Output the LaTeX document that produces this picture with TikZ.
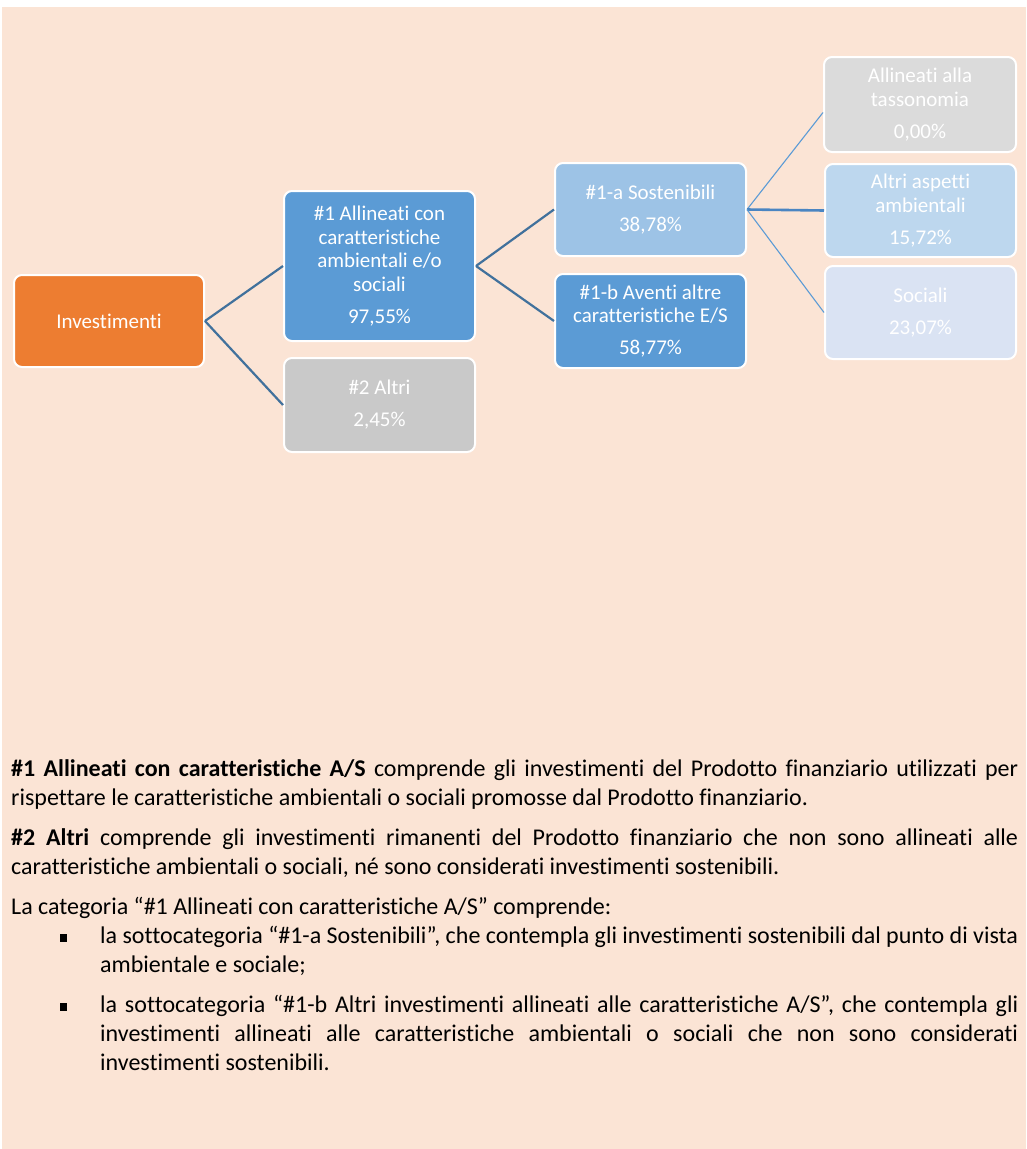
\documentclass[tikz,border=0pt]{standalone}
\usepackage{fontspec}
\setmainfont{Carlito}[Ligatures={TeX,NoCommon}]
\definecolor{bg}{HTML}{FBE4D5}
\definecolor{cOrange}{HTML}{ED7D31}
\definecolor{cBlue}{HTML}{5B9BD5}
\definecolor{cGrey}{HTML}{C9C9C9}
\definecolor{cLightBlue}{HTML}{9DC3E6}
\definecolor{cLightGrey}{HTML}{DBDBDB}
\definecolor{cPaleBlue}{HTML}{BDD7EE}
\definecolor{cPalest}{HTML}{DAE3F3}
\definecolor{lineA}{HTML}{41719C}
\definecolor{lineB}{HTML}{5B9BD5}
\definecolor{lineC}{HTML}{4A85C2}
\begin{document}
\begin{tikzpicture}[x=1pt,y=-1pt,
  box/.style={draw=white, line width=2pt, rounded corners=8pt, text=white,
    align=center, font=\fontsize{21}{23.7}\selectfont, inner sep=0pt},
  conn/.style={draw=lineA, line width=2.2pt},
  thinconn/.style={draw=lineB, line width=1.1pt},
  midconn/.style={draw=lineC, line width=2.6pt}]
\useasboundingbox (0,0) rectangle (1026,1149);
\fill[white] (0,0) rectangle (1026,1149);
\fill[bg] (2,7) rectangle (1026,1149);

\node[box, fill=cOrange, minimum width=190pt, minimum height=92pt] (inv) at (109,321) {Investimenti};
\node[box, fill=cBlue, minimum width=191pt, minimum height=150pt] (a1) at (379.5,266)
  {\#1 Allineati con\\caratteristiche\\ambientali e/o\\sociali\\[8.3pt]97,55\%};
\node[box, fill=cGrey, minimum width=191pt, minimum height=94pt] (a2) at (379.5,405)
  {\#2 Altri\\[8.3pt]2,45\%};
\node[box, fill=cLightBlue, minimum width=191pt, minimum height=93pt] (s1a) at (650.5,209.5)
  {\#1-a Sostenibili\\[8.3pt]38,78\%};
\node[box, fill=cBlue, minimum width=191pt, minimum height=94pt] (s1b) at (650.5,321)
  {\#1-b Aventi altre\\caratteristiche E/S\\[8.3pt]58,77\%};
\node[box, fill=cLightGrey, minimum width=192pt, minimum height=95pt] (tax) at (920,104.5)
  {Allineati alla\\tassonomia\\[8.3pt]0,00\%};
\node[box, fill=cPaleBlue, minimum width=191pt, minimum height=93pt] (amb) at (920.5,210.5)
  {Altri aspetti\\ambientali\\[8.3pt]15,72\%};
\node[box, fill=cPalest, minimum width=191pt, minimum height=93pt] (soc) at (920.5,312.5)
  {Sociali\\[8.3pt]23,07\%};

\draw[conn] (inv.east) -- (a1.west);
\draw[conn] (inv.east) -- (a2.west);
\draw[conn] (a1.east) -- (s1a.west);
\draw[conn] (a1.east) -- (s1b.west);
\draw[thinconn] (s1a.east) -- ([yshift=-8pt]tax.west);
\draw[midconn] (s1a.east) -- (amb.west);
\draw[thinconn] (s1a.east) -- (soc.west);

\node[anchor=base west, inner sep=0pt, font=\fontsize{24}{29.3}\selectfont] (body) at (11,776)
{\begin{minipage}[t]{1007pt}
\setlength{\parindent}{0pt}\setlength{\parskip}{10.4pt}
\hyphenpenalty=10000 \exhyphenpenalty=10000 \tolerance=9999 \emergencystretch=20pt
\textbf{\#1 Allineati con caratteristiche A/S} comprende gli investimenti del Prodotto finanziario utilizzati per\linebreak
rispettare le caratteristiche ambientali o sociali promosse dal Prodotto finanziario.\par
\textbf{\#2 Altri} comprende gli investimenti rimanenti del Prodotto finanziario che non sono allineati alle\linebreak
caratteristiche ambientali o sociali, né sono considerati investimenti sostenibili.\par
La categoria “\#1 Allineati con caratteristiche A/S” comprende:\par
\vspace{-10.4pt}
{\leftskip=89pt\noindent\llap{\rule[1.8pt]{7pt}{8pt}\hspace{33pt}}la sottocategoria “\#1-a Sostenibili”, che contempla gli investimenti sostenibili dal punto di vista\linebreak
ambientale e sociale;\par}
{\leftskip=89pt\noindent\llap{\rule[1.8pt]{7pt}{8pt}\hspace{33pt}}la sottocategoria “\#1-b Altri investimenti allineati alle caratteristiche A/S”, che contempla gli\linebreak
investimenti allineati alle caratteristiche ambientali o sociali che non sono considerati\linebreak
investimenti sostenibili.\par}
\end{minipage}};
\end{tikzpicture}
\end{document}
